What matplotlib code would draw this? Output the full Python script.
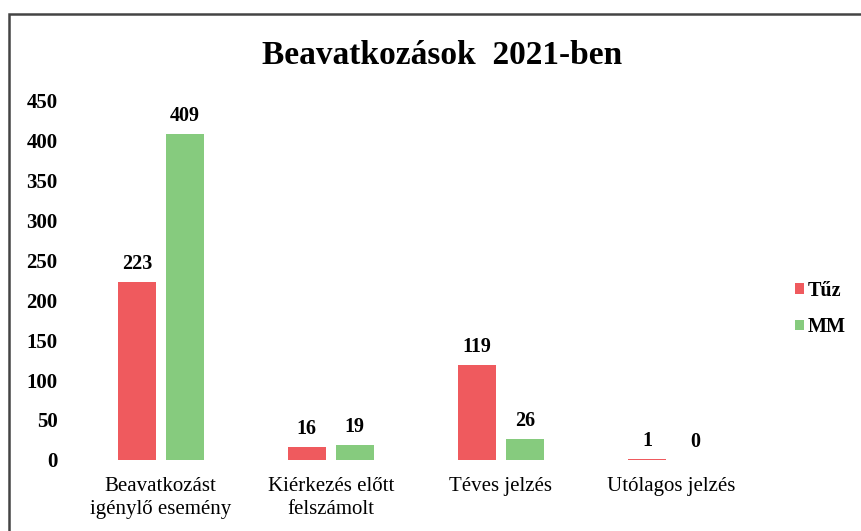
import matplotlib.pyplot as plt
import numpy as np
from matplotlib.patches import Rectangle

categories = ['Beavatkozást\nigénylő esemény', 'Kiérkezés előtt\nfelszámolt',
              'Téves jelzés', 'Utólagos jelzés']
tuz = [223, 16, 119, 1]
mm = [409, 19, 26, 0]
series_names = ['Tűz', 'MM']
colors = ['#EF5A5E', '#86CB7E']

plt.rcParams['font.family'] = ['Liberation Serif', 'DejaVu Serif']

fig = plt.figure(figsize=(8.61, 5.31), dpi=100)
ax = fig.add_axes([0.088, 0.134, 0.79, 0.676])

x = np.arange(len(categories))
w = 0.224
off = 0.141
b1 = ax.bar(x - off, tuz, w, color=colors[0], label=series_names[0])
b2 = ax.bar(x + off, mm, w, color=colors[1], label=series_names[1])

for bars, vals in ((b1, tuz), (b2, mm)):
    for rect, v in zip(bars, vals):
        ax.text(rect.get_x() + rect.get_width() / 2, v + 10, str(v),
                ha='center', va='bottom', fontsize=14.5, fontweight='bold')

ax.set_xlim(-0.5, 3.5)
ax.set_ylim(0, 450)
ax.set_yticks(range(0, 451, 50))
ax.set_xticks(x)
ax.set_xticklabels(categories, fontsize=15, linespacing=1.35)
for lab in ax.get_yticklabels():
    lab.set_fontweight('bold')
    lab.set_fontsize(15)
ax.tick_params(length=0)
ax.tick_params(axis='y', pad=13)
ax.tick_params(axis='x', pad=12)
for s in ax.spines.values():
    s.set_visible(False)

fig.text(0.513, 0.896, 'Beavatkozások  2021-ben', ha='center', va='center',
         fontsize=24, fontweight='bold')

leg = ax.legend(loc='center left', bbox_to_anchor=(1.058, 0.42), frameon=False,
                handlelength=0.45, handleheight=0.45, handletextpad=0.15,
                labelspacing=0.8, borderpad=0, borderaxespad=0,
                prop={'weight': 'bold', 'size': 14.5})

fig.patches.append(Rectangle((0.011, -0.1), 1.2, 1.074,
                             transform=fig.transFigure, fill=False,
                             edgecolor='#444444', linewidth=1.8))

fig.savefig('out.png', dpi=100)
